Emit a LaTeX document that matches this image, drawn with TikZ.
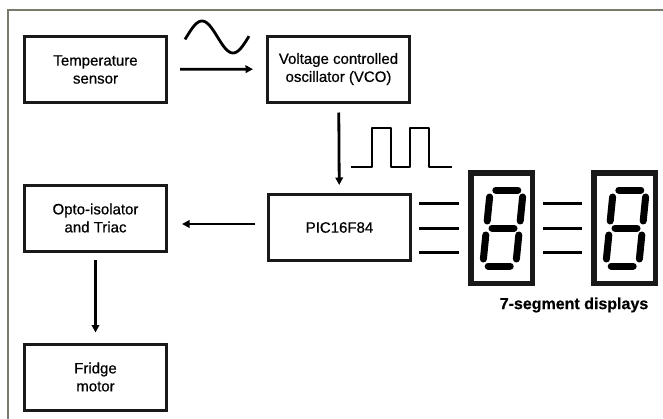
\documentclass[tikz,border=0pt]{standalone}
\usepackage{fontspec}
\setmainfont{Liberation Sans}
\newfontfamily\blkfont[FakeBold=0.6]{Liberation Sans}
\usetikzlibrary{arrows.meta}
\definecolor{framec}{RGB}{120,122,108}
\begin{document}
\begin{tikzpicture}[x=1pt,y=-1pt,
  blk/.style={draw=black!90, line width=3pt, minimum width=142pt, minimum height=66pt,
              align=center, inner sep=0pt, font=\blkfont\fontsize{15}{18}\selectfont},
  arr/.style={line width=2.8pt, -{Triangle[length=7.5pt,width=7.5pt]}},
  lead/.style={line width=3pt},
  disp/.style={draw=black!90, line width=5.5pt, minimum width=61.5pt, minimum height=110.5pt, inner sep=0pt},
  seg/.style={line width=7pt, line cap=round},
  wave/.style={line width=2.8pt, line join=round}]
\useasboundingbox (0,0) rectangle (663,418);
% frame
\draw[framec, line width=2pt] (8,420) -- (8,10) -- (665,10);
% blocks
\node[blk] (temp) at (95.5,69.5) {Temperature\\sensor};
\node[blk] (vco) at (338.5,69) {Voltage controlled\\oscillator (VCO)};
\node[blk] (pic) at (339.5,227.5) {PIC16F84};
\node[blk] (opto) at (95.5,218) {Opto-isolator\\and Triac};
\node[blk] (fridge) at (95.5,377) {Fridge\\motor};
% displays
\node[disp] (d1) at (501.5,228) {};
\node[disp] (d2) at (624.5,228) {};
\node[font=\blkfont\bfseries\fontsize{16}{18}\selectfont] (lbl) at (574,305) {7-segment displays};
% helper coordinates
\coordinate (yA) at (0,224);
\coordinate (l1) at (0,203);
\coordinate (l2) at (0,228);
\coordinate (l3) at (0,252);
% connectors
\draw[arr, shorten <=12pt, shorten >=13pt] (temp) -- (vco);
\draw[arr, shorten <=9pt, shorten >=8pt] (vco) -- (pic);
\draw[arr, shorten <=12pt, shorten >=14pt] (pic.west |- yA) -- (opto.east |- yA);
\draw[arr, shorten <=7pt, shorten >=10pt] (opto) -- (fridge);
\foreach \l in {l1,l2,l3}{
  \draw[lead, shorten <=7pt, shorten >=9pt] (pic.east |- \l) -- (d1.west |- \l);
  \draw[lead, shorten <=8pt, shorten >=9pt] (d1.east |- \l) -- (d2.west |- \l);
}
% segments
\foreach \c in {d1,d2}{
  \begin{scope}[shift={(\c.center)}, xshift=1.5pt, xslant=0.1]
    \draw[seg] (-11,-38) -- (11,-38);
    \draw[seg] (-11,0) -- (11,0);
    \draw[seg] (-11,38) -- (11,38);
    \draw[seg] (-16.5,-31) -- (-16.5,-7);
    \draw[seg] (16.5,-31) -- (16.5,-7);
    \draw[seg] (-16.5,7) -- (-16.5,31);
    \draw[seg] (16.5,7) -- (16.5,31);
  \end{scope}
}
% sine wave
\draw[wave] plot[smooth, domain=185:249, samples=40] (\x,{37-16*sin(180+(\x-217.5)*360/62)});
% square wave
\draw[wave] (351,167) -- (372,167) -- (372,128) -- (391,128) -- (391,167) -- (410,167)
  -- (410,128) -- (429,128) -- (429,167) -- (452,167);
\end{tikzpicture}
\end{document}
